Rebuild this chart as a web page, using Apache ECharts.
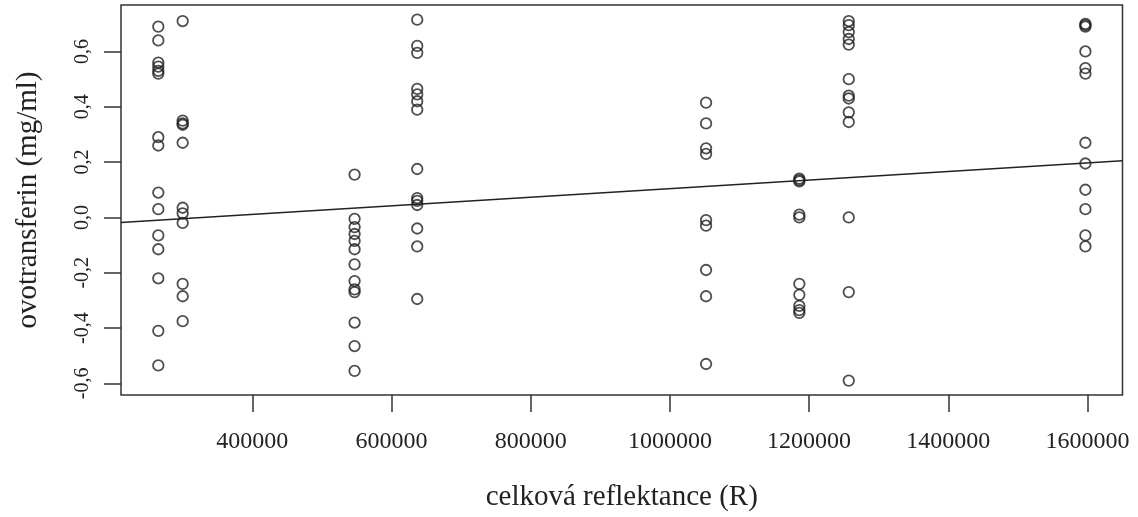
<!DOCTYPE html>
<html>
<head>
<meta charset="utf-8">
<script src="https://cdn.jsdelivr.net/npm/echarts@6/dist/echarts.min.js"></script>
<style>
    html, body { margin: 0; padding: 0; background: #fff; }
    #chart { width: 1138px; height: 517px; }
</style>
</head>
<body>
<div id="chart"></div>
<script>
// x positions (celková reflektance) of the measured groups
const xLevels = [265000, 300000, 547000, 637000, 1052000, 1186000, 1257000, 1597000];

// ovotransferin values for each group
const ovo265k = [0.69, 0.64, 0.56, 0.545, 0.53, 0.52, 0.29, 0.26, 0.09, 0.03, -0.065, -0.115, -0.22, -0.41, -0.535];
const ovo300k = [0.71, 0.35, 0.34, 0.335, 0.27, 0.035, 0.015, -0.02, -0.24, -0.285, -0.375];
const ovo547k = [0.155, -0.005, -0.035, -0.06, -0.085, -0.115, -0.17, -0.23, -0.26, -0.27, -0.38, -0.465, -0.555];
const ovo637k = [0.715, 0.62, 0.595, 0.465, 0.445, 0.42, 0.39, 0.175, 0.07, 0.06, 0.045, -0.04, -0.105, -0.295];
const ovo1052k = [0.415, 0.34, 0.25, 0.23, -0.01, -0.03, -0.19, -0.285, -0.53];
const ovo1186k = [0.14, 0.135, 0.13, 0.01, 0.0, -0.24, -0.28, -0.32, -0.335, -0.345];
const ovo1257k = [0.71, 0.695, 0.67, 0.645, 0.625, 0.5, 0.44, 0.43, 0.38, 0.345, 0.0, -0.27, -0.59];
const ovo1597k = [0.70, 0.695, 0.69, 0.60, 0.54, 0.52, 0.27, 0.195, 0.10, 0.03, -0.065, -0.105];

// fitted line (abline)
const fitIntercept = -0.051;
const fitSlope = 1.55e-7;

// tick labels
const xTicks = [400000, 600000, 800000, 1000000, 1200000, 1400000, 1600000];
const yTicks = [-0.6, -0.4, -0.2, 0.0, 0.2, 0.4, 0.6];

const xMin = 211400, xMax = 1650300;
const yMin = -0.642, yMax = 0.768;

const groups = [ovo265k, ovo300k, ovo547k, ovo637k, ovo1052k, ovo1186k, ovo1257k, ovo1597k];
const points = [];
groups.forEach(function (vals, i) {
    vals.forEach(function (v) { points.push([xLevels[i], v]); });
});

const fitLine = [xMin, xMax].map(function (x) { return [x, fitIntercept + fitSlope * x]; });

const serif = 'Liberation Serif';
const ink = '#222';

var chart = echarts.init(document.getElementById('chart'));
chart.setOption({
    backgroundColor: '#fff',
    animation: false,
    grid: {
        left: 121,
        right: 15.5,
        top: 5,
        bottom: 121.5,
        show: true,
        borderColor: '#333',
        borderWidth: 1.5,
        backgroundColor: 'transparent',
    },
    xAxis: {
        type: 'value',
        min: xMin,
        max: xMax,
        name: 'celková reflektance (R)',
        nameLocation: 'middle',
        nameGap: 88,
        nameTextStyle: { fontFamily: serif, fontSize: 29, color: ink },
        axisLine: { show: false, onZero: false },
        axisTick: {
            show: true,
            customValues: xTicks,
            length: 17,
            lineStyle: { color: '#333', width: 1.5 },
        },
        axisLabel: {
            customValues: xTicks,
            margin: 35,
            fontFamily: serif,
            fontSize: 24,
            color: ink,
            formatter: function (v) { return String(v); },
        },
        splitLine: { show: false },
    },
    yAxis: {
        type: 'value',
        min: yMin,
        max: yMax,
        name: 'ovotransferin (mg/ml)',
        nameLocation: 'middle',
        nameGap: 78,
        nameTextStyle: { fontFamily: serif, fontSize: 29, color: ink },
        axisLine: { show: false, onZero: false },
        axisTick: {
            show: true,
            customValues: yTicks,
            length: 17,
            lineStyle: { color: '#333', width: 1.5 },
        },
        axisLabel: {
            customValues: yTicks,
            rotate: 90,
            margin: 28,
            fontFamily: serif,
            fontSize: 20,
            color: ink,
            formatter: function (v) { return v.toFixed(1).replace('.', ','); },
        },
        splitLine: { show: false },
    },
    series: [
        {
            type: 'line',
            data: fitLine,
            showSymbol: false,
            silent: true,
            lineStyle: { color: ink, width: 1.4 },
            z: 1,
        },
        {
            type: 'scatter',
            data: points,
            symbol: 'circle',
            symbolSize: 10.5,
            itemStyle: {
                color: 'rgba(0,0,0,0)',
                borderColor: ink,
                borderWidth: 1.8,
            },
            z: 2,
        },
    ],
});
</script>
</body>
</html>
